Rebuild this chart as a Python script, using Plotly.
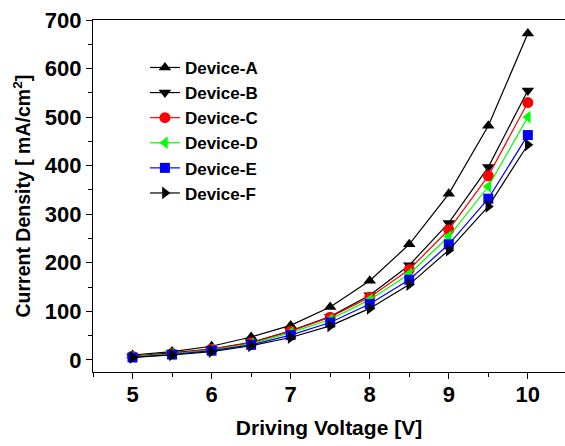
import plotly.graph_objects as go

# Driving voltage (V)
voltage = [5, 5.5, 6, 6.5, 7, 7.5, 8, 8.5, 9, 9.5, 10]

# Current density (mA/cm^2) for each device
device_a = [10, 17, 28, 47, 71, 109, 163, 238, 342, 482, 672]
device_b = [7, 14, 22, 36, 60, 89, 133, 195, 282, 397, 555]
device_c = [7, 13, 22, 35, 59, 88, 129, 186, 268, 379, 530]
device_d = [6, 12, 20, 33, 56, 83, 124, 177, 254, 357, 500]
device_e = [5, 11, 19, 31, 51, 77, 115, 165, 238, 332, 463]
device_f = [5, 10, 17, 29, 46, 70, 106, 155, 226, 316, 443]

names = ["Device-A", "Device-B", "Device-C", "Device-D", "Device-E", "Device-F"]
series = [device_a, device_b, device_c, device_d, device_e, device_f]

colors = ["#000000", "#000000", "#ff0000", "#00ff00", "#0000ff", "#000000"]
symbols = ["triangle-up", "triangle-down", "circle", "triangle-left", "square", "triangle-right"]
sizes = [11, 11, 11, 11, 10, 11]

FONT = "Liberation Sans, Arial, sans-serif"

fig = go.Figure()
for name, ys, c, s, sz in zip(names, series, colors, symbols, sizes):
    fig.add_trace(go.Scatter(
        x=voltage, y=ys, name=name, mode="lines+markers",
        line=dict(color=c, width=1.2),
        marker=dict(symbol=s, size=sz, color=c, line=dict(width=0)),
    ))

axis_common = dict(
    showline=True, linecolor="#000000", linewidth=1.3,
    showgrid=False, zeroline=False,
    ticks="outside", ticklen=6, tickwidth=1.2, tickcolor="#000000",
    tickfont=dict(family=FONT, size=22, color="#000000", weight="bold"),
)

fig.update_layout(
    width=565, height=446,
    margin=dict(l=93, r=0, t=20, b=74),
    paper_bgcolor="white", plot_bgcolor="white",
    showlegend=True,
    legend=dict(
        x=0.11, y=0.915, xanchor="left", yanchor="top",
        bgcolor="rgba(0,0,0,0)", borderwidth=0,
        font=dict(family=FONT, size=17, color="#000000", weight="bold"),
        tracegroupgap=0,
    ),
    xaxis=dict(
        range=[4.5, 10.47], dtick=1, tick0=5, mirror=True,
        ticklabelstandoff=-4,
        minor=dict(dtick=0.5, tick0=5, ticks="outside", ticklen=4, tickwidth=1.2, tickcolor="#000000"),
        title=dict(text="Driving Voltage [V]", standoff=14,
                   font=dict(family=FONT, size=21, color="#000000", weight="bold")),
        **axis_common,
    ),
    yaxis=dict(
        range=[-25, 700], dtick=100, tick0=0, mirror=False,
        minor=dict(dtick=50, tick0=0, ticks="outside", ticklen=4, tickwidth=1.2, tickcolor="#000000"),
        **axis_common,
    ),
    annotations=[dict(
        text="Current Density [ mA/cm<sup>2</sup>]",
        xref="paper", yref="paper",
        x=(21 - 93) / 472, y=(372 - 320) / 352,
        xanchor="center", yanchor="bottom", textangle=-90, showarrow=False,
        font=dict(family=FONT, size=19.5, color="#000000", weight="bold"),
    )],
)

fig.write_html("out.html")
